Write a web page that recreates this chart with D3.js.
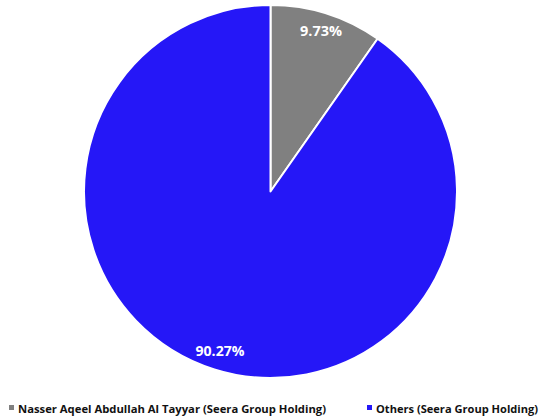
<!DOCTYPE html>
<html>
<head>
<meta charset="utf-8">
<script src="https://cdn.jsdelivr.net/npm/d3@7"></script>
<style>
  html, body { margin: 0; padding: 0; background: #fff; }
  svg { display: block; }
</style>
</head>
<body>
<svg id="chart" width="539" height="420"></svg>
<script>
// Shareholding split
const categories = ["Nasser Aqeel Abdullah Al Tayyar (Seera Group Holding)", "Others (Seera Group Holding)"];
const values = [9.73, 90.27];
const colors = ["#808080", "#2517F7"];

const svg = d3.select("#chart");
const cx = 270.5, cy = 191.5, R = 186.5;

const pie = d3.pie().sort(null).value(d => d.value);
const arcs = pie(categories.map((c, i) => ({ name: c, value: values[i], color: colors[i] })));

const arc = d3.arc().innerRadius(0).outerRadius(R);
const labelArc = d3.arc().innerRadius(R * 0.9).outerRadius(R * 0.9);

const g = svg.append("g").attr("transform", `translate(${cx},${cy})`);

g.selectAll("path.slice")
  .data(arcs)
  .join("path")
  .attr("class", "slice")
  .attr("d", arc)
  .attr("fill", d => d.data.color)
  .attr("stroke", "#fff")
  .attr("stroke-width", 2)
  .attr("stroke-linejoin", "round");

g.selectAll("text.pct")
  .data(arcs)
  .join("text")
  .attr("class", "pct")
  .attr("transform", d => `translate(${labelArc.centroid(d)})`)
  .attr("text-anchor", "middle")
  .attr("dy", "0.36em")
  .attr("fill", "#fff")
  .attr("font-family", "'Open Sans', sans-serif")
  .attr("font-weight", "bold")
  .attr("font-size", 13.5)
  .attr("textLength", d => d.data.value >= 10 ? 49 : 42)
  .attr("lengthAdjust", "spacingAndGlyphs")
  .text(d => d.data.value.toFixed(2) + "%");

// Legend
const legendItems = [
  { x: 9, width: 308 },
  { x: 367, width: 162 }
];
const legend = svg.append("g").attr("class", "legend");
categories.forEach((c, i) => {
  const item = legend.append("g").attr("transform", `translate(${legendItems[i].x},0)`);
  item.append("rect")
    .attr("x", 0).attr("y", 405)
    .attr("width", 5).attr("height", 5)
    .attr("fill", colors[i]);
  item.append("text")
    .attr("x", 9).attr("y", 413)
    .attr("font-family", "'Open Sans', sans-serif")
    .attr("font-weight", "bold")
    .attr("font-size", 11)
    .attr("fill", "#111")
    .attr("textLength", legendItems[i].width)
    .attr("lengthAdjust", "spacingAndGlyphs")
    .text(c);
});
</script>
</body>
</html>
